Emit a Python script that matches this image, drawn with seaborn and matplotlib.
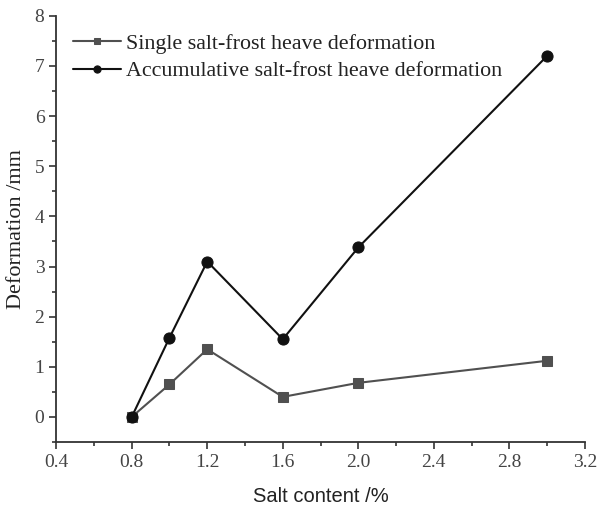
import matplotlib
matplotlib.use("Agg")
import matplotlib.pyplot as plt
import seaborn as sns
import pandas as pd
from matplotlib.ticker import MultipleLocator

salt = [0.8, 1.0, 1.2, 1.6, 2.0, 3.0]
single = [0.0, 0.65, 1.35, 0.40, 0.68, 1.12]
accum = [0.0, 1.58, 3.10, 1.55, 3.38, 7.20]
labels = ["Single salt-frost heave deformation", "Accumulative salt-frost heave deformation"]

sns.set_theme(style="ticks")
plt.rcParams['font.family'] = ['Liberation Serif', 'DejaVu Serif']

df = pd.DataFrame({"salt": salt, "single": single, "accum": accum})

fig = plt.figure(figsize=(5.98, 5.11), dpi=100)
ax = fig.add_axes([0.094, 0.135, 0.884, 0.834])

sns.lineplot(data=df, x="salt", y="single", ax=ax, color="#505050", marker="s",
             markersize=7, markeredgecolor="#505050", linewidth=1.5, label=labels[0])
sns.lineplot(data=df, x="salt", y="accum", ax=ax, color="#111111", marker="o",
             markersize=8, markeredgecolor="#111111", linewidth=1.5, label=labels[1])

ax.set_xlim(0.4, 3.2)
ax.set_ylim(-0.5, 8)
ax.xaxis.set_major_locator(MultipleLocator(0.4))
ax.xaxis.set_minor_locator(MultipleLocator(0.2))
ax.yaxis.set_major_locator(MultipleLocator(1))
ax.yaxis.set_minor_locator(MultipleLocator(0.5))
ax.set_xticklabels([f"{v:.1f}" for v in ax.get_xticks()])
ax.tick_params(which="major", direction="out", length=5, width=1.2, labelsize=14,
               colors="#333333", labelcolor="#444444")
ax.tick_params(which="minor", direction="out", length=3, width=1.2, colors="#333333")
for s in ["top", "right"]:
    ax.spines[s].set_visible(False)
for s in ["left", "bottom"]:
    ax.spines[s].set_linewidth(1.3)
    ax.spines[s].set_color("#333333")

ax.set_ylabel("Deformation /mm", fontsize=16, color="#222222", labelpad=6)
ax.set_xlabel("Salt content /%", fontsize=14.5, color="#222222", labelpad=12,
              family=["Liberation Sans", "DejaVu Sans"])

leg = ax.legend(loc="upper left", bbox_to_anchor=(0.006, 0.99), frameon=False,
                fontsize=15.8, handlelength=2.2, handletextpad=0.25, labelspacing=0.34,
                borderaxespad=0.2, markerscale=0.65)
for t in leg.get_texts():
    t.set_color("#222222")

fig.savefig("out.png", dpi=100)
